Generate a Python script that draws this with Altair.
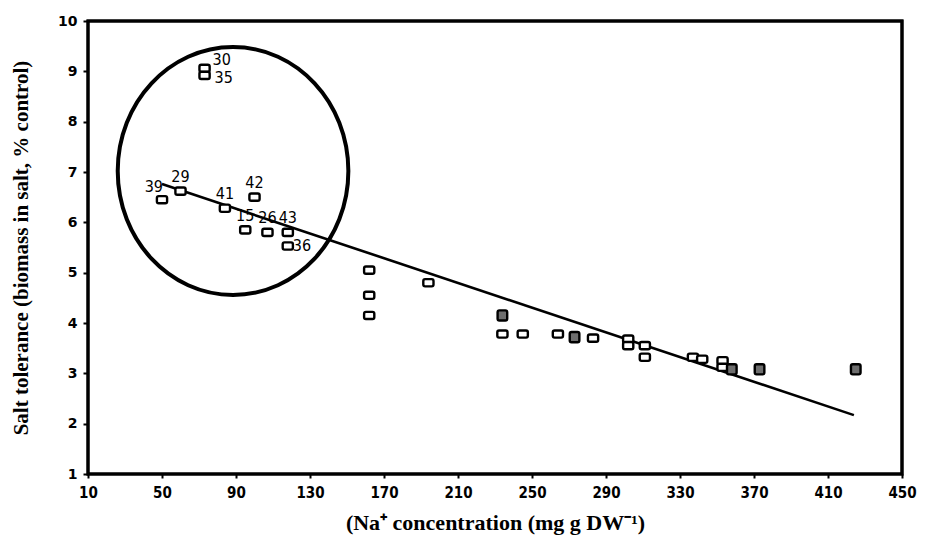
import altair as alt
import pandas as pd

# ---- data ----
x_vals = [73, 73, 50, 60, 84, 100, 95, 107, 118, 118,
          162, 162, 162, 194, 234, 234, 245, 264, 273, 283,
          302, 302, 311, 311, 337, 342, 353, 353, 358, 373, 425]
y_vals = [9.06, 8.92, 6.45, 6.62, 6.28, 6.5, 5.85, 5.8, 5.8, 5.53,
          5.05, 4.55, 4.15, 4.8, 4.15, 3.78, 3.78, 3.78, 3.72, 3.7,
          3.68, 3.55, 3.55, 3.32, 3.32, 3.28, 3.25, 3.12, 3.08, 3.08, 3.08]
kind = ["open"] * 14 + ["shaded", "open", "open", "open", "shaded", "open",
                        "open", "open", "open", "open", "open", "open", "open", "open",
                        "shaded", "shaded", "shaded"]
genotype = ["30", "35", "39", "29", "41", "42", "15", "26", "43", "36"] + [""] * 21
label_pos = ["ne", "se", "nw", "n", "n", "n", "n", "n", "n", "e"] + [""] * 21

line_x = [50, 424]
line_y = [6.76, 2.17]

ring_x = [88.4]
ring_y = [7.02]

# plot frame corners (axis limits)
frame_x = [10, 10, 450, 450, 10]
frame_y = [1, 10, 10, 1, 1]

x_ticks = [10, 50, 90, 130, 170, 210, 250, 290, 330, 370, 410, 450]
y_ticks = [1, 2, 3, 4, 5, 6, 7, 8, 9, 10]

x_title = "(Na\u207a concentration (mg g DW\u207b\u00b9)"
y_title = "Salt tolerance (biomass in salt, % control)"

W, H = 814, 453

pts = pd.DataFrame({"x": x_vals, "y": y_vals, "kind": kind,
                    "genotype": genotype, "pos": label_pos})
line_df = pd.DataFrame({"x": line_x, "y": line_y})
ring_df = pd.DataFrame({"x": ring_x, "y": ring_y})
frame_df = pd.DataFrame({"x": frame_x, "y": frame_y, "k": list(range(len(frame_x)))})

xs = alt.Scale(domain=[10, 450], nice=False, zero=False)
ys = alt.Scale(domain=[1, 10], nice=False, zero=False)

open_shape = ("M-0.55,-0.6H0.55A0.3,0.3 0 0 1 0.85,-0.3V0.3A0.3,0.3 0 0 1 0.55,0.6"
              "H-0.55A0.3,0.3 0 0 1 -0.85,0.3V-0.3A0.3,0.3 0 0 1 -0.55,-0.6Z")
shaded_shape = ("M-0.5,-0.85H0.5A0.3,0.3 0 0 1 0.8,-0.55V0.55A0.3,0.3 0 0 1 0.5,0.85"
                "H-0.5A0.3,0.3 0 0 1 -0.8,0.55V-0.55A0.3,0.3 0 0 1 -0.5,-0.85Z")
ellipse_shape = "M-0.93,0A0.93,1 0 1 1 0.93,0A0.93,1 0 1 1 -0.93,0Z"

frame = alt.Chart(frame_df).mark_line(color="black", strokeWidth=3,
                                      strokeJoin="miter", strokeCap="square").encode(
    x=alt.X("x:Q", scale=xs, axis=alt.Axis(
        values=x_ticks, title=x_title, labelFont="DejaVu Sans Condensed",
        labelFontWeight="bold", labelFontSize=15, labelPadding=7, labelColor="black",
        titleFont="Liberation Serif", titleFontWeight="bold", titleFontSize=22,
        titlePadding=12, titleColor="black", tickSize=4, tickWidth=2, tickColor="black",
        domain=False, grid=False, labelFlush=False)),
    y=alt.Y("y:Q", scale=ys, axis=alt.Axis(
        values=y_ticks, title=y_title, labelFont="DejaVu Sans", labelFontWeight="bold",
        labelFontSize=14, labelPadding=6, labelColor="black",
        titleFont="Liberation Serif", titleFontWeight="bold", titleFontSize=21,
        titlePadding=26, titleColor="black", tickSize=5, tickWidth=2, tickColor="black",
        domain=False, grid=False, labelFlush=False)),
    order="k:Q",
)

points = alt.Chart(pts).mark_point(filled=False, size=144, strokeWidth=2.4,
                                   stroke="black", opacity=1).encode(
    x=alt.X("x:Q", scale=xs),
    y=alt.Y("y:Q", scale=ys),
    fill=alt.Fill("kind:N", scale=alt.Scale(domain=["open", "shaded"], range=["white", "#6e6e6e"]),
                  legend=None),
    shape=alt.Shape("kind:N", scale=alt.Scale(domain=["open", "shaded"],
                                              range=[open_shape, shaded_shape]), legend=None),
)

reg = alt.Chart(line_df).mark_line(color="black", strokeWidth=2.6).encode(
    x=alt.X("x:Q", scale=xs), y=alt.Y("y:Q", scale=ys))

ring = alt.Chart(ring_df).mark_point(shape=ellipse_shape, size=61504, filled=False,
                                     stroke="black", strokeWidth=4, opacity=1).encode(
    x=alt.X("x:Q", scale=xs), y=alt.Y("y:Q", scale=ys))

offsets = {
    "n": dict(align="center", dx=0, dy=-14),
    "ne": dict(align="left", dx=8, dy=-8),
    "se": dict(align="left", dx=10, dy=3),
    "nw": dict(align="right", dx=1, dy=-13),
    "e": dict(align="left", dx=5, dy=0),
}
texts = []
for key, o in offsets.items():
    texts.append(
        alt.Chart(pts).transform_filter(alt.datum.pos == key).mark_text(
            font="DejaVu Sans Condensed", fontSize=16, color="black",
            baseline="middle", **o).encode(
            x=alt.X("x:Q", scale=xs), y=alt.Y("y:Q", scale=ys), text="genotype:N"))

chart = alt.layer(frame, reg, ring, points, *texts).properties(
    width=W, height=H,
    autosize=alt.AutoSizeParams(type="none"),
    padding={"left": 80, "top": 13, "right": 16, "bottom": 65},
    background="white",
).configure_view(stroke="black", strokeWidth=3)

chart.save("out.html", embed_options={"renderer": "svg", "actions": False})
